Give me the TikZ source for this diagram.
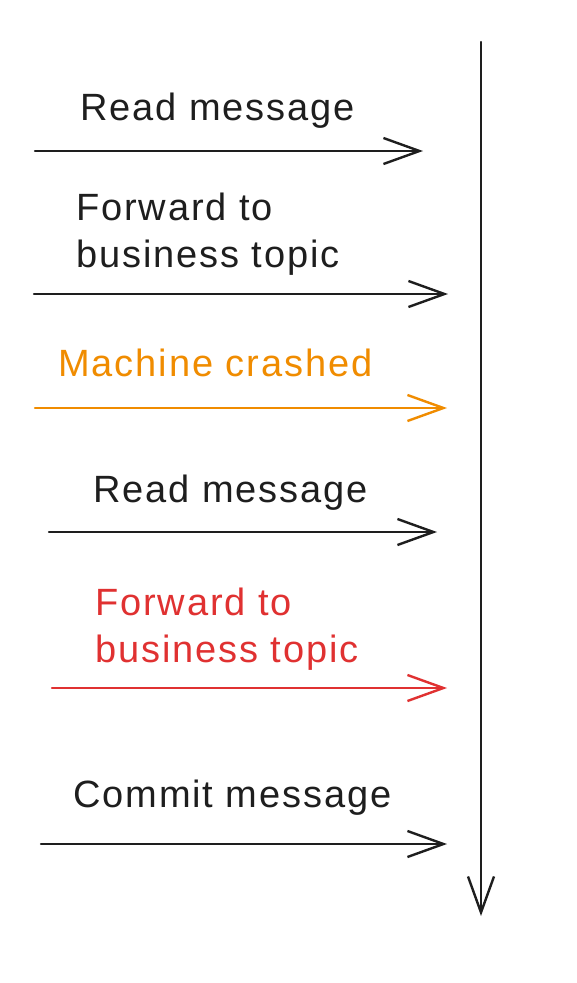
\documentclass[tikz,border=0pt]{standalone}
\usepackage{fontspec}
\setmainfont{Liberation Sans}[LetterSpace=5]
\usetikzlibrary{arrows.meta}
\definecolor{inkblack}{HTML}{1E1E1E}
\definecolor{inkorange}{HTML}{F08C00}
\definecolor{inkred}{HTML}{E03131}
\tikzset{
  lbl/.style={anchor=base west, inner sep=0pt, font=\fontsize{38}{47}\selectfont, align=left},
  flow/.style={line width=2.4pt, line cap=round, line join=round,
    -{Straight Barb[length=36pt,width=26pt,line width=2.4pt]}},
}
\begin{document}
\begin{tikzpicture}[x=1pt,y=-1pt]
\useasboundingbox (0,0) rectangle (577,983);
\fill[white] (0,0) rectangle (577,983);
% timeline
\coordinate (tTop) at (481,42);
\coordinate (tEnd) at (481,916);
\draw[flow, inkblack] (tTop) -- (tEnd);
% labels
\node[lbl, text=inkblack] (l1) at (80,120) {Read message};
\node[lbl, text=inkblack] (l2) at (76,267) {Forward to\\business topic};
\node[lbl, text=inkorange] (l3) at (58,376) {Machine crashed};
\node[lbl, text=inkblack] (l4) at (93,502) {Read message};
\node[lbl, text=inkred] (l5) at (95,662) {Forward to\\business topic};
\node[lbl, text=inkblack] (l6) at (73,807) {Commit message};
% arrow end points
\coordinate (a1s) at (35,151);  \coordinate (a1e) at (423,151);
\coordinate (a2s) at (34,294);  \coordinate (a2e) at (448,294);
\coordinate (a3s) at (35,408);  \coordinate (a3e) at (447,408);
\coordinate (a4s) at (49,532);  \coordinate (a4e) at (437,532);
\coordinate (a5s) at (52,688);  \coordinate (a5e) at (447,688);
\coordinate (a6s) at (41,844);  \coordinate (a6e) at (447,844);
\draw[flow, inkblack] (a1s) -- (a1e);
\draw[flow, inkblack] (a2s) -- (a2e);
\draw[flow, inkorange] (a3s) -- (a3e);
\draw[flow, inkblack] (a4s) -- (a4e);
\draw[flow, inkred] (a5s) -- (a5e);
\draw[flow, inkblack] (a6s) -- (a6e);
\end{tikzpicture}
\end{document}
